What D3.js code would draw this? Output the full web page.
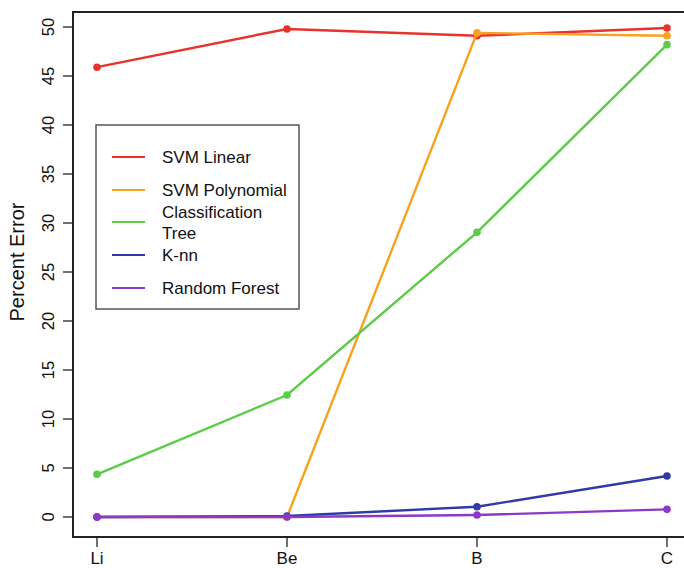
<!DOCTYPE html>
<html>
<head>
<meta charset="utf-8">
<script src="https://cdn.jsdelivr.net/npm/d3@7"></script>
<style>
  body { margin: 0; background: #fff; }
  text { font-family: "Liberation Sans", Arial, Helvetica, sans-serif; fill: #111; }
</style>
</head>
<body>
<div class="chart"></div>
<script>
var categories = ["Li", "Be", "B", "C"];
var seriesNames = ["SVM Linear", "SVM Polynomial", "Classification Tree", "K-nn", "Random Forest"];
var svmLinear = [45.9, 49.8, 49.1, 49.9];
var svmPoly = [0.0, 0.0, 49.4, 49.1];
var classTree = [4.35, 12.45, 29.05, 48.2];
var knn = [0.0, 0.1, 1.05, 4.18];
var randomForest = [0.0, 0.0, 0.2, 0.78];
var yTicks = [0, 5, 10, 15, 20, 25, 30, 35, 40, 45, 50];
var colors = ["#e8322c", "#f7a11f", "#5ccb48", "#2f3aa6", "#8a3ac6"];

(function() {
  var width = 684, height = 568;
  var box = {left: 73, top: 12, right: 692, bottom: 537};

  var svg = d3.select(".chart").append("svg")
    .attr("width", width)
    .attr("height", height);

  var x = d3.scalePoint().domain(categories).range([97, 667]);
  var y = d3.scaleLinear().domain([0, 50]).range([517, 27]);

  var series = [svmLinear, svmPoly, classTree, knn, randomForest].map(function(vals, i) {
    return {name: seriesNames[i], color: colors[i], values: vals.map(function(v, j) {
      return {cat: categories[j], value: v};
    })};
  });

  var line = d3.line()
    .x(function(d) { return x(d.cat); })
    .y(function(d) { return y(d.value); });

  // series
  var gs = svg.append("g").selectAll("g")
    .data(series)
    .enter().append("g");
  gs.append("path")
    .attr("d", function(d) { return line(d.values); })
    .attr("fill", "none")
    .attr("stroke", function(d) { return d.color; })
    .attr("stroke-width", 2.4);
  gs.selectAll("circle")
    .data(function(d) { return d.values.map(function(v) { return {v: v, color: d.color}; }); })
    .enter().append("circle")
    .attr("cx", function(d) { return x(d.v.cat); })
    .attr("cy", function(d) { return y(d.v.value); })
    .attr("r", 3.8)
    .attr("fill", function(d) { return d.color; });

  // box
  svg.append("path")
    .attr("d", "M" + box.right + "," + box.top + "H" + box.left + "V" + box.bottom + "H" + box.right)
    .attr("fill", "none")
    .attr("stroke", "#222")
    .attr("stroke-width", 2);

  // y axis
  var yAxis = svg.append("g");
  yAxis.selectAll("line")
    .data(yTicks)
    .enter().append("line")
    .attr("x1", box.left - 10).attr("x2", box.left)
    .attr("y1", function(d) { return y(d); })
    .attr("y2", function(d) { return y(d); })
    .attr("stroke", "#222")
    .attr("stroke-width", 1.3);
  yAxis.selectAll("text")
    .data(yTicks)
    .enter().append("text")
    .attr("transform", function(d) { return "translate(54," + y(d) + ") rotate(-90)"; })
    .attr("text-anchor", "middle")
    .style("font-size", "16.5px")
    .text(function(d) { return d; });

  // x axis
  var xAxis = svg.append("g");
  xAxis.selectAll("line")
    .data(categories)
    .enter().append("line")
    .attr("x1", function(d) { return x(d); })
    .attr("x2", function(d) { return x(d); })
    .attr("y1", box.bottom).attr("y2", box.bottom + 10)
    .attr("stroke", "#222")
    .attr("stroke-width", 1.3);
  xAxis.selectAll("text")
    .data(categories)
    .enter().append("text")
    .attr("x", function(d) { return x(d); })
    .attr("y", 564)
    .attr("text-anchor", "middle")
    .style("font-size", "17px")
    .text(function(d) { return d; });

  svg.append("text")
    .attr("transform", "translate(24,262) rotate(-90)")
    .attr("text-anchor", "middle")
    .style("font-size", "20px")
    .text("Percent Error");

  // legend
  var lg = svg.append("g");
  lg.append("rect")
    .attr("x", 96).attr("y", 125)
    .attr("width", 203).attr("height", 184)
    .attr("fill", "#fff")
    .attr("stroke", "#555")
    .attr("stroke-width", 1.5);
  var rows = [157, 190, 222, 255, 288];
  var items = lg.selectAll("g.item")
    .data(series)
    .enter().append("g")
    .attr("class", "item")
    .attr("transform", function(d, i) { return "translate(0," + rows[i] + ")"; });
  items.append("line")
    .attr("x1", 112).attr("x2", 145)
    .attr("stroke", function(d) { return d.color; })
    .attr("stroke-width", 2);
  items.each(function(d) {
    var t = d3.select(this).append("text")
      .attr("x", 162)
      .style("font-size", "17px");
    var parts = d.name == "Classification Tree" ? ["Classification", "Tree"] : [d.name];
    parts.forEach(function(p, k) {
      t.append("tspan")
        .attr("x", 162)
        .attr("y", parts.length > 1 ? (k == 0 ? -4 : 17) : 6)
        .text(p);
    });
  });
})();
</script>
</body>
</html>
